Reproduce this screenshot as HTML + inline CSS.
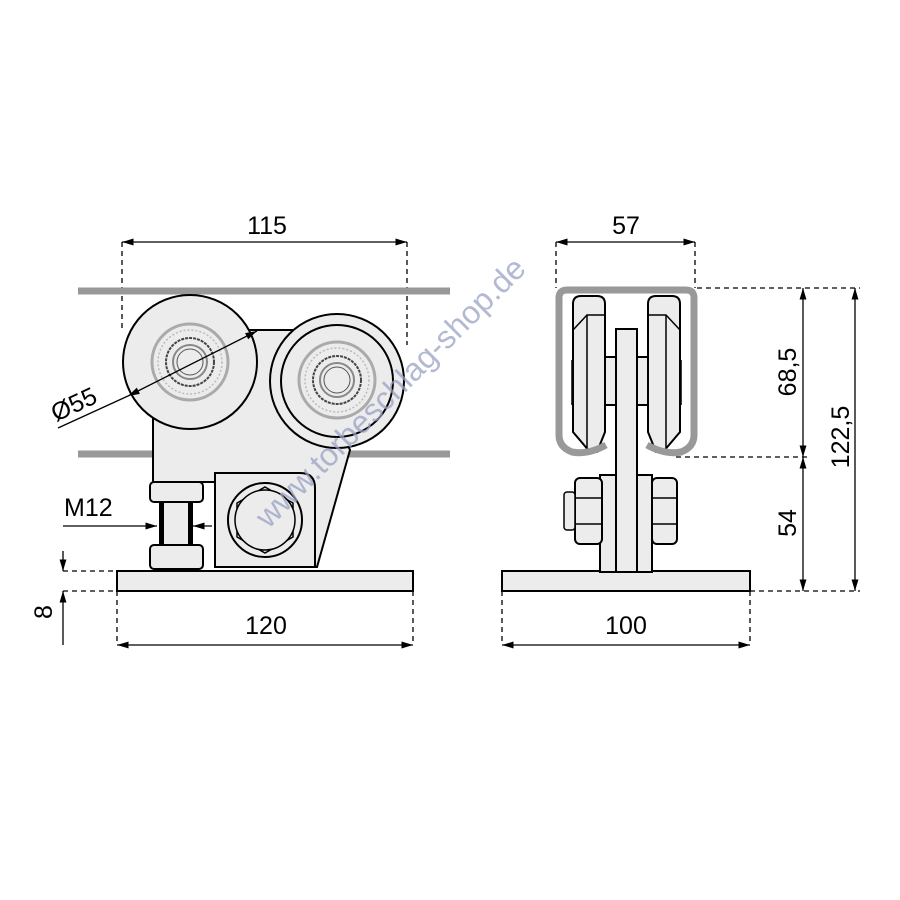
<!DOCTYPE html>
<html><head><style>body{margin:0;background:#fff}svg{display:block}</style></head><body>
<svg width="900" height="900" viewBox="0 0 900 900" xmlns="http://www.w3.org/2000/svg" font-family="Liberation Sans, sans-serif">
<defs>
<marker id="a" viewBox="0 0 10 10" refX="10" refY="5" markerWidth="9" markerHeight="9" orient="auto-start-reverse"><path d="M0,2 L10,5 L0,8 z" fill="#000"/></marker>
</defs>
<g stroke="#000" stroke-width="1.3" fill="none" stroke-dasharray="5,4">
<line x1="122" y1="242" x2="122" y2="330"/><line x1="407" y1="242" x2="407" y2="345"/>
<line x1="63" y1="571" x2="117" y2="571"/><line x1="63" y1="591" x2="117" y2="591"/>
<line x1="117" y1="591" x2="117" y2="645"/><line x1="413" y1="591" x2="413" y2="645"/>
<line x1="556" y1="242" x2="556" y2="288"/><line x1="695" y1="242" x2="695" y2="288"/>
<line x1="697" y1="288" x2="860" y2="288"/><line x1="676" y1="457" x2="810" y2="457"/>
<line x1="750" y1="591" x2="860" y2="591"/>
<line x1="502" y1="591" x2="502" y2="645"/><line x1="750" y1="591" x2="750" y2="645"/>
</g>
<g stroke="#000" stroke-width="1.3" fill="none">
<line x1="122" y1="242" x2="407" y2="242" marker-start="url(#a)" marker-end="url(#a)"/>
<line x1="117" y1="645" x2="413" y2="645" marker-start="url(#a)" marker-end="url(#a)"/>
<line x1="556" y1="242" x2="695" y2="242" marker-start="url(#a)" marker-end="url(#a)"/>
<line x1="502" y1="645" x2="750" y2="645" marker-start="url(#a)" marker-end="url(#a)"/>
<line x1="803" y1="288" x2="803" y2="457" marker-start="url(#a)" marker-end="url(#a)"/>
<line x1="803" y1="457" x2="803" y2="591" marker-start="url(#a)" marker-end="url(#a)"/>
<line x1="855" y1="288" x2="855" y2="591" marker-start="url(#a)" marker-end="url(#a)"/>
<line x1="63" y1="551" x2="63" y2="571" marker-end="url(#a)"/>
<line x1="63" y1="645" x2="63" y2="591" marker-end="url(#a)"/>
<line x1="63" y1="526" x2="157" y2="526" marker-end="url(#a)"/>
<line x1="212" y1="526" x2="193" y2="526" marker-end="url(#a)"/>
</g>
<g stroke="#999" stroke-width="7"><line x1="78" y1="291" x2="450" y2="291"/><line x1="78" y1="454" x2="450" y2="454"/></g>
<g stroke="#000" stroke-width="2" fill="#ececec">
<path d="M153,330 L295,330 L350,450 L317,567 L215,567 L215,482 L153,482 Z"/>
<circle cx="190" cy="362" r="67"/>
<circle cx="337" cy="381" r="67"/>
<circle cx="337" cy="381" r="56"/>
<rect x="117" y="571" width="296" height="20"/>
<path d="M215,473 L300,473 Q315,473 315,488 L315,567 L215,567 Z"/>
<circle cx="265" cy="520" r="37"/>
<polygon points="265,487 293,503 293,537 265,553 237,537 237,503" fill="none" stroke-width="1.5"/>
<circle cx="265" cy="520" r="30" stroke-width="1.5"/>
<rect x="150" y="482" width="53" height="20" rx="4"/>
<rect x="150" y="545" width="53" height="24" rx="4"/>
<rect x="160" y="502" width="32" height="43"/>
</g>
<g stroke="#000" stroke-width="4"><line x1="162" y1="502" x2="162" y2="545"/><line x1="190" y1="502" x2="190" y2="545"/></g>
<g fill="none">
<circle cx="190" cy="362" r="38" stroke="#aaa" stroke-width="3"/><circle cx="190" cy="362" r="32" stroke="#bbb" stroke-width="1.5" stroke-dasharray="2,2"/>
<circle cx="190" cy="362" r="24" stroke="#444" stroke-width="2" stroke-dasharray="3,1"/><circle cx="190" cy="362" r="17" stroke="#888" stroke-width="2"/><circle cx="190" cy="362" r="13" stroke="#555" stroke-width="1"/>
<circle cx="337" cy="380" r="38" stroke="#aaa" stroke-width="3"/><circle cx="337" cy="380" r="32" stroke="#bbb" stroke-width="1.5" stroke-dasharray="2,2"/>
<circle cx="337" cy="380" r="24" stroke="#444" stroke-width="2" stroke-dasharray="3,1"/><circle cx="337" cy="380" r="17" stroke="#888" stroke-width="2"/><circle cx="337" cy="380" r="13" stroke="#555" stroke-width="1"/>
</g>
<line x1="58" y1="428" x2="128" y2="396" stroke="#000" stroke-width="1.3"/>
<line x1="128" y1="396" x2="257" y2="331" stroke="#000" stroke-width="1.3" marker-start="url(#a)" marker-end="url(#a)"/>
<g stroke="#000" stroke-width="2" fill="#ececec">
<rect x="502" y="571" width="248" height="20"/>
<rect x="604" y="357" width="46" height="48"/>
<path d="M573,304 Q573,296 581,296 L597,296 Q605,296 605,304 L605,432 L597,452 L590,452 L573,432 Z"/>
<path d="M648,304 Q648,296 656,296 L672,296 Q680,296 680,304 L680,432 L663,452 L656,452 L648,432 Z"/>
<rect x="600" y="475" width="52" height="97"/>
<rect x="575" y="478" width="27" height="66" rx="5"/>
<rect x="652" y="478" width="25" height="66" rx="5"/>
<rect x="616" y="329" width="21" height="243"/>
</g>
<g stroke="#000" stroke-width="1.5" fill="none">
<path d="M573,330 L587,315 L605,315 M587,315 L587,452"/><path d="M680,330 L666,315 L648,315 M666,315 L666,452"/>
<line x1="572" y1="360" x2="572" y2="405"/><line x1="681" y1="360" x2="681" y2="405"/>
<line x1="575" y1="498" x2="602" y2="498"/><line x1="575" y1="524" x2="602" y2="524"/>
<line x1="652" y1="498" x2="677" y2="498"/><line x1="652" y1="524" x2="677" y2="524"/>
<line x1="616" y1="475" x2="616" y2="572"/>
<rect x="564" y="492" width="11" height="38" rx="3" fill="#ececec"/>
</g>
<path d="M606,445 Q588,455 572,452 Q559,447 559,435 L559,298 Q559,290 567,290 L686,290 Q694,290 694,298 L694,435 Q694,447 681,452 Q665,455 647,445" fill="none" stroke="#999" stroke-width="7"/>
<g font-size="25" fill="#000">
<text x="267" y="234" text-anchor="middle">115</text>
<text x="626" y="234" text-anchor="middle">57</text>
<text x="266" y="634" text-anchor="middle">120</text>
<text x="626" y="634" text-anchor="middle">100</text>
<text x="64" y="516">M12</text>
<text transform="translate(56,422) rotate(-25)">Ø55</text>
<text transform="translate(52,612) rotate(-90)" text-anchor="middle">8</text>
<text transform="translate(796,372) rotate(-90)" text-anchor="middle">68,5</text>
<text transform="translate(796,523) rotate(-90)" text-anchor="middle">54</text>
<text transform="translate(849,437) rotate(-90)" text-anchor="middle">122,5</text>
</g>
<text transform="translate(398,400) rotate(-45)" text-anchor="middle" font-size="32" fill="#9aa0c4" fill-opacity="0.75">www.torbeschlag-shop.de</text>
</svg>
</body></html>
